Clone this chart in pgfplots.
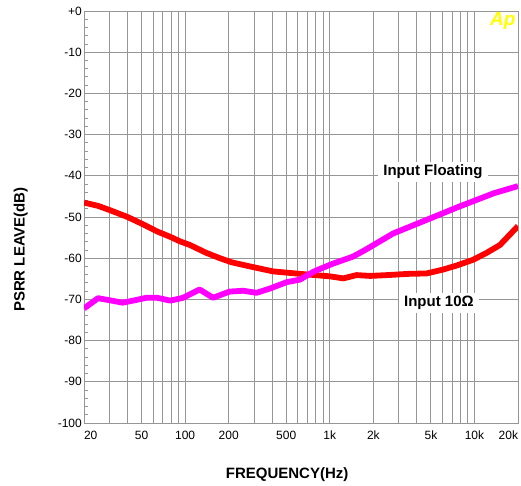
\documentclass[border=0pt]{standalone}
\usepackage{pgfplots}
\pgfplotsset{compat=1.18}
\usepackage{fontspec}
\setmainfont{Liberation Sans}

\definecolor{gridgray}{RGB}{150,150,150}
\definecolor{apyellow}{RGB}{255,255,0}
\definecolor{curvered}{RGB}{255,0,0}
\definecolor{curvemag}{RGB}{255,0,255}

\begin{document}
\begin{tikzpicture}
\path[use as bounding box] (-84pt,-62pt) rectangle (437pt,423pt);
\begin{axis}[
  at={(0pt,0pt)}, anchor=south west,
  scale only axis,
  width=434pt, height=412pt,
  xmode=log, log basis x=10,
  xmin=20, xmax=20000,
  ymin=-100, ymax=0,
  xtick={20,50,100,200,500,1000,2000,5000,10000,20000},
  xticklabels={\makebox[0pt][l]{20},50,100,200,500,1k,2k,5k,10k,\makebox[0pt][r]{20k}},
  minor xtick={30,40,60,70,80,90,300,400,600,700,800,900,3000,4000,6000,7000,8000,9000},
  ytick={-100,-90,...,0},
  yticklabels={-100,-90,-80,-70,-60,-50,-40,-30,-20,-10,+0},
  minor y tick num=4,
  xmajorgrids, xminorgrids, ymajorgrids,
  major grid style={gridgray, line width=0.9pt},
  minor grid style={gridgray, line width=0.9pt},
  axis line style={gridgray, line width=0.9pt},
  xtick style={draw=none},
  ytick style={gridgray, line width=0.9pt},
  ytick pos=left, tick align=inside,
  major tick length=0pt, minor tick length=4pt,
  tick label style={font=\fontsize{12}{14}\selectfont},
  yticklabel style={anchor=east, inner sep=0pt, xshift=-2pt},
  xticklabel style={anchor=base, inner sep=0pt, yshift=-16pt},
  xlabel={FREQUENCY(Hz)},
  ylabel={PSRR LEAVE(dB)},
  every axis x label/.style={at={(axis description cs:0.468,-0.1335)}, anchor=base,
    font=\bfseries\fontsize{15}{18}\selectfont},
  every axis y label/.style={at={(axis description cs:-0.146,0.421)}, rotate=90, anchor=center,
    font=\bfseries\fontsize{15}{18}\selectfont},
]

% Input 10 Ohm
\addplot[curvered, line width=5.8pt, line join=round] coordinates {
  (20,-46.5) (25,-47.3) (30,-48.3) (40,-50.0) (50,-51.6) (64,-53.5)
  (80,-54.9) (92,-55.9) (108,-56.8) (140,-58.7) (174,-60.0) (210,-61.0)
  (281,-62.0) (405,-63.2) (622,-63.8) (1000,-64.4) (1240,-64.9)
  (1530,-64.1) (1900,-64.3) (2500,-64.1) (3500,-63.8) (4670,-63.7)
  (6000,-62.8) (7500,-61.8) (9750,-60.4) (12000,-58.8) (15000,-56.8)
  (20000,-52.2)
};

% Input Floating
\addplot[curvemag, line width=5.8pt, line join=round] coordinates {
  (20,-72.2) (25,-69.7) (30,-70.2) (37,-70.8) (45,-70.2) (54,-69.6)
  (64,-69.6) (79,-70.3) (97,-69.6) (126,-67.6) (156,-69.6) (203,-68.1)
  (252,-67.9) (312,-68.4) (390,-67.3) (505,-65.8) (622,-65.2) (770,-63.3)
  (856,-62.6) (1055,-61.3) (1450,-59.6) (1797,-57.8) (2740,-54.0)
  (4670,-50.7) (7800,-47.5) (13700,-44.2) (20000,-42.5)
};

\node[fill=white, inner xsep=5pt, inner ysep=3pt,
  font=\bfseries\fontsize{15}{18}\selectfont] at (axis cs:5165,-39.1) {Input Floating};
\node[fill=white, inner xsep=5pt, inner ysep=3pt,
  font=\bfseries\fontsize{15}{18}\selectfont] at (axis cs:5680,-70.9) {Input 10Ω};
\node[text=apyellow, inner sep=0pt,
  font=\bfseries\itshape\fontsize{19}{19}\selectfont] at (rel axis cs:0.965,0.976) {Ap};
\end{axis}
\end{tikzpicture}
\end{document}
